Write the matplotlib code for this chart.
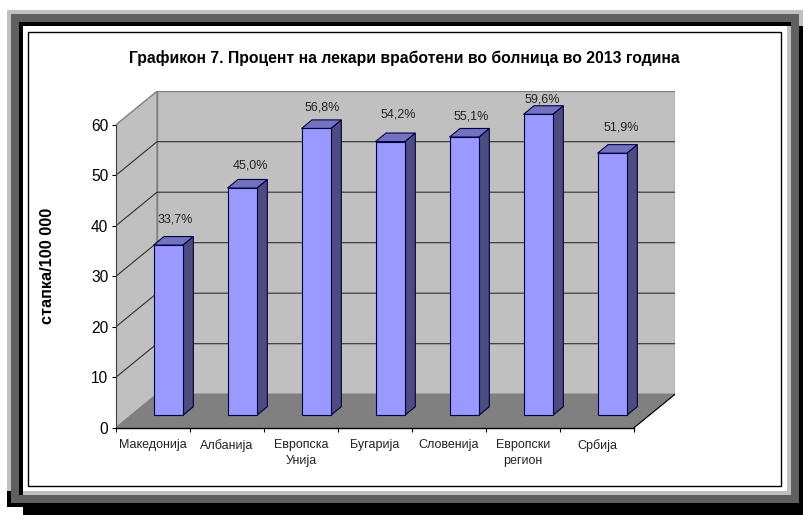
import matplotlib
matplotlib.use('Agg')
import matplotlib.pyplot as plt
from matplotlib.patches import Polygon, Rectangle

plt.rcParams['font.family'] = ['Liberation Sans', 'DejaVu Sans']

W, H = 804, 515

categories = ['Македонија', 'Албанија', 'Европска\nУнија', 'Бугарија',
              'Словенија', 'Европски\nрегион', 'Србија']
values = [33.7, 45.0, 56.8, 54.2, 55.1, 59.6, 51.9]
value_labels = ['33,7%', '45,0%', '56,8%', '54,2%', '55,1%', '59,6%', '51,9%']
yticks = [0, 10, 20, 30, 40, 50, 60]
title = 'Графикон 7. Процент на лекари вработени во болница во 2013 година'
ylabel = 'стапка/100 000'

# label placement in pixels above the bar front, the original has them moved by hand
label_dx = [7, 8, 6, 8, 7, 4, 9]
label_lift = [26, 23, 21, 27, 21, 15, 26]

# oblique depth of the plot box, in data units
DX = 41 / 74.0
DY = 33.5 / 5.05
BAR_W = 0.396
D0, D1 = 0.37, 0.626

WALL = '#c0c0c0'
FLOOR = '#808080'
FRONT = '#9999ff'
TOP = '#7272c0'
SIDE = '#4c4c80'
EDGE = '#000040'


def proj(x, v, d):
    return (x + d * DX, v + d * DY)


def poly(ax, pts, color, edge=None, lw=0.8, z=2):
    ax.add_patch(Polygon(pts, closed=True, facecolor=color,
                         edgecolor=edge if edge else color, linewidth=lw,
                         zorder=z, joinstyle='miter'))


def draw_frame(fig):
    bg = fig.add_axes([0, 0, 1, 1], zorder=0)
    bg.set_xlim(0, W)
    bg.set_ylim(H, 0)
    bg.axis('off')
    rects = [
        (7, 10, 797, 16, '#c0c0c0'),
        (7, 10, 4, 481, '#c0c0c0'),
        (799, 26, 5, 489, 'black'),
        (7, 491, 797, 16, 'black'),
        (23, 507, 781, 8, 'black'),
        (11, 14, 788, 8, '#606060'),
        (11, 14, 8, 489, '#606060'),
        (791, 14, 8, 489, '#606060'),
        (11, 495, 788, 8, '#606060'),
        (19, 22, 772, 4, 'black'),
        (19, 22, 4, 469, 'black'),
        (23, 491, 768, 4, '#c0c0c0'),
        (787, 26, 4, 469, '#c0c0c0'),
    ]
    for x, y, w, h, c in rects:
        bg.add_patch(Rectangle((x, y), w, h, facecolor=c, edgecolor='none'))
    bg.add_patch(Rectangle((28, 31.5), 753, 454.5, facecolor='white',
                           edgecolor='black', linewidth=1.0))


def draw_box(ax, n):
    top = yticks[-1]
    # back wall, side wall, floor
    poly(ax, [proj(0, 0, 1), proj(n, 0, 1), proj(n, top, 1), proj(0, top, 1)], WALL, FLOOR, 1.0)
    poly(ax, [proj(0, 0, 0), proj(0, 0, 1), proj(0, top, 1), proj(0, top, 0)], WALL, FLOOR, 1.0)
    poly(ax, [proj(0, 0, 0), proj(n, 0, 0), proj(n, 0, 1), proj(0, 0, 1)], FLOOR, FLOOR, 0.8)
    ax.plot(*zip(proj(n, 0, 0), proj(n, 0, 1)), color='black', lw=0.8, zorder=2.5)
    for v in yticks[1:-1]:
        ax.plot(*zip(proj(0, v, 0), proj(0, v, 1), proj(n, v, 1)),
                color='#303030', lw=0.8, zorder=2.5)


def draw_bars(ax):
    for i, v in enumerate(values):
        x0 = i + 0.5 - BAR_W / 2 + D0 * DX
        # the bar front sits at depth D0, its width is measured from there
        x1 = x0 + BAR_W
        y0 = D0 * DY
        dd = D1 - D0
        z = 3 + i * 0.1
        poly(ax, [(x1, y0), (x1 + dd * DX, y0 + dd * DY),
                  (x1 + dd * DX, y0 + v + dd * DY), (x1, y0 + v)], SIDE, EDGE, 0.8, z)
        poly(ax, [(x0, y0 + v), (x1, y0 + v), (x1 + dd * DX, y0 + v + dd * DY),
                  (x0 + dd * DX, y0 + v + dd * DY)], TOP, EDGE, 0.8, z)
        poly(ax, [(x0, y0), (x1, y0), (x1, y0 + v), (x0, y0 + v)], FRONT, EDGE, 0.8, z)
        ax.annotate(value_labels[i], ((x0 + x1) / 2, y0 + v),
                    xytext=(label_dx[i], label_lift[i]), textcoords='offset pixels',
                    ha='center', va='center', fontsize=9, color='#222222', zorder=6,
                    annotation_clip=False)


def main():
    fig = plt.figure(figsize=(W / 100, H / 100), dpi=100, facecolor='white')
    draw_frame(fig)

    n = len(categories)
    # front plane is x 116..634 px and value 0 at 427.7 px, 60 at 124.7 px
    left, right = 116, 116 + 74 * (n + DX)
    bottom, top = 427.7, 427.7 - 5.05 * (60 + DY)
    ax = fig.add_axes([left / W, 1 - bottom / H, (right - left) / W, (bottom - top) / H],
                      zorder=1)
    ax.set_xlim(0, n + DX)
    ax.set_ylim(0, 60 + DY)
    ax.patch.set_visible(False)

    draw_box(ax, n)
    draw_bars(ax)

    for s in ['top', 'right']:
        ax.spines[s].set_visible(False)
    ax.spines['left'].set_bounds(0, 60)
    ax.spines['bottom'].set_bounds(0, n)
    ax.spines['left'].set_color('#404040')
    ax.spines['bottom'].set_linewidth(1.0)
    ax.spines['left'].set_zorder(2.6)
    ax.spines['bottom'].set_zorder(2.6)

    ax.set_yticks(yticks)
    ax.tick_params(axis='y', length=3, width=0.8, pad=2.5, labelsize=11.2)
    ax.set_xticks(range(n + 1))
    ax.set_xticklabels([])
    ax.set_xticks([i + 0.5 for i in range(n)], minor=True)
    ax.set_xticklabels(categories, minor=True, fontsize=9, linespacing=1.5, color='#222222')
    ax.tick_params(axis='x', which='major', length=3, width=0.8)
    ax.tick_params(axis='x', which='minor', length=0, pad=8)

    fig.text(404 / W, 1 - 58 / H, title, ha='center', va='center',
             fontsize=11.35, fontweight='bold')
    fig.text(48 / W, 1 - 266 / H, ylabel, rotation=90, ha='center', va='center',
             fontsize=11.7, fontweight='bold')

    fig.savefig('out.png', dpi=100)


if __name__ == '__main__':
    main()
